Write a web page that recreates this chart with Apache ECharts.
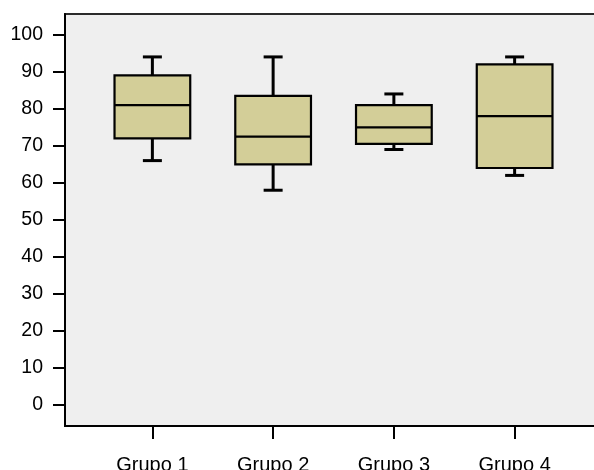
<!DOCTYPE html>
<html>
<head>
<meta charset="utf-8">
<script src="https://cdn.jsdelivr.net/npm/echarts@6/dist/echarts.min.js"></script>
<style>html,body{margin:0;padding:0;background:#fff}#c{width:594px;height:470px}</style>
</head>
<body>
<div id="c"></div>
<script>
const categories = ['Grupo 1', 'Grupo 2', 'Grupo 3', 'Grupo 4'];
const whiskerLow = [66, 58, 69, 62];
const q1 = [72, 65, 70.5, 64];
const median = [81, 72.5, 75, 78];
const q3 = [89, 83.5, 81, 92];
const whiskerHigh = [94, 94, 84, 94];
const yTicks = [0, 100, 10];

const data = categories.map((c, i) => [i, whiskerLow[i], q1[i], median[i], q3[i], whiskerHigh[i]]);

const chart = echarts.init(document.getElementById('c'), null, {renderer: 'canvas'});
const font = '"Liberation Sans", Arial, sans-serif';

function renderItem(params, api) {
  const idx = api.value(0);
  const band = api.size([1, 0])[0];
  const boxW = band * 0.627;
  const capW = 19;
  const x = api.coord([idx, 0])[0];
  const yLo = api.coord([idx, api.value(1)])[1];
  const yQ1 = api.coord([idx, api.value(2)])[1];
  const yMed = api.coord([idx, api.value(3)])[1];
  const yQ3 = api.coord([idx, api.value(4)])[1];
  const yHi = api.coord([idx, api.value(5)])[1];
  const line = {stroke: '#000', lineWidth: 3};
  return {
    type: 'group',
    children: [
      {type: 'line', shape: {x1: x, y1: yHi, x2: x, y2: yQ3}, style: line},
      {type: 'line', shape: {x1: x, y1: yQ1, x2: x, y2: yLo}, style: line},
      {type: 'line', shape: {x1: x - capW / 2, y1: yHi, x2: x + capW / 2, y2: yHi}, style: line},
      {type: 'line', shape: {x1: x - capW / 2, y1: yLo, x2: x + capW / 2, y2: yLo}, style: line},
      {type: 'rect', shape: {x: x - boxW / 2, y: yQ3, width: boxW, height: yQ1 - yQ3},
        style: {fill: '#d3ce98', stroke: '#000', lineWidth: 2.2}},
      {type: 'line', shape: {x1: x - boxW / 2, y1: yMed, x2: x + boxW / 2, y2: yMed},
        style: {stroke: '#000', lineWidth: 2.2}}
    ]
  };
}

chart.setOption({
  animation: false,
  grid: [
    {left: 65, right: -10, top: 14, bottom: 44, show: true, backgroundColor: '#efefef',
      borderColor: '#2b2b2b', borderWidth: 2, outerBoundsMode: 'none', containLabel: false},
    {left: 92, right: 19, top: 34.7, bottom: 65, outerBoundsMode: 'none', containLabel: false}
  ],
  xAxis: [
    {gridIndex: 0, type: 'value', min: 0, max: 1,
      axisLine: {show: true, lineStyle: {color: '#000', width: 2}},
      axisTick: {show: false}, axisLabel: {show: false}, splitLine: {show: false}},
    {gridIndex: 1, type: 'category', data: categories, offset: 21, boundaryGap: true,
      axisLine: {show: true, onZero: false, lineStyle: {color: '#000', width: 2, opacity: 0}},
      axisTick: {show: true, alignWithLabel: true, length: 13, lineStyle: {color: '#000', width: 2, opacity: 1}},
      axisLabel: {color: '#000', fontSize: 20, fontFamily: font, margin: 29},
      splitLine: {show: false}}
  ],
  yAxis: [
    {gridIndex: 0, type: 'value', min: 0, max: 1,
      axisLine: {show: true, lineStyle: {color: '#000', width: 2}},
      axisTick: {show: false}, axisLabel: {show: false}, splitLine: {show: false}},
    {gridIndex: 1, type: 'value', min: yTicks[0], max: yTicks[1], interval: yTicks[2], offset: 27,
      axisLine: {show: false},
      axisTick: {show: true, length: 12, lineStyle: {color: '#000', width: 2}},
      axisLabel: {color: '#000', fontSize: 19.5, fontFamily: font, margin: 22},
      splitLine: {show: false}}
  ],
  series: [{
    type: 'custom',
    xAxisIndex: 1, yAxisIndex: 1,
    renderItem: renderItem,
    encode: {x: 0, y: [1, 2, 3, 4, 5]},
    data: data,
    clip: false
  }]
});
</script>
</body>
</html>
